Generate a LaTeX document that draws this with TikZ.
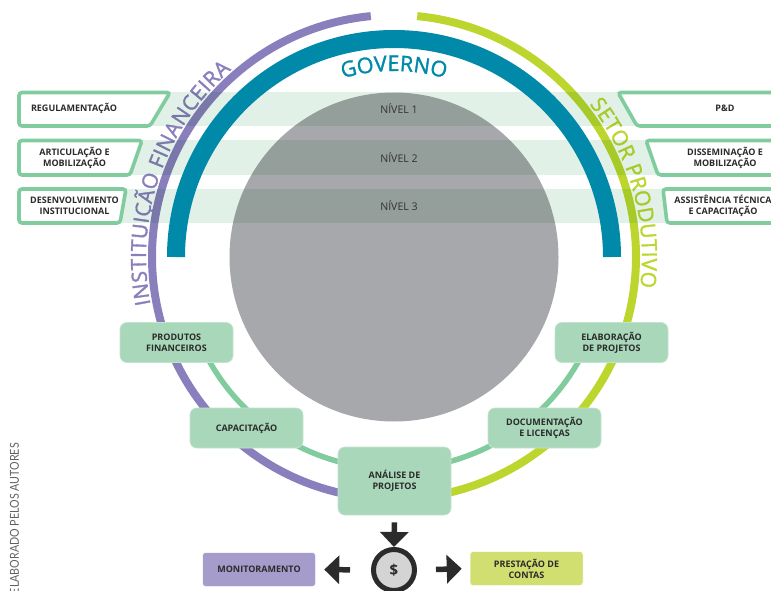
\documentclass[tikz,border=0pt]{standalone}
\usepackage{graphicx}
\usepackage{fontspec}
\setmainfont{Open Sans}
\newfontfamily\titlefont{Open Sans}[FakeBold=1.6]
\newfontfamily\notefont{Lato}
\usetikzlibrary{decorations.text,arrows.meta}
\definecolor{ringpurple}{HTML}{8A7FBD}
\definecolor{ringlime}{HTML}{BDD62E}
\definecolor{ringgreen}{HTML}{80CC9E}
\definecolor{teal}{HTML}{0089A8}
\definecolor{disc}{HTML}{A7A8AB}
\definecolor{bandc}{HTML}{E2F1E7}
\definecolor{boxg}{HTML}{A9D7BA}
\definecolor{boxp}{HTML}{A59CCB}
\definecolor{boxl}{HTML}{D1DF70}
\definecolor{ink}{HTML}{2B2B2B}
\tikzset{
  lab/.style={font=\fontsize{9}{11}\selectfont\bfseries,text=ink,align=center,inner sep=0pt},
  bx/.style={lab,rounded corners=7pt,fill=boxg,draw=boxg!70!white,line width=0.7pt,minimum width=113pt,minimum height=40pt},
  flat/.style={lab,rounded corners=3pt,draw=white,line width=0.5pt,minimum width=113pt,minimum height=34pt},
  trap/.style={draw=ringgreen,line width=3.6pt,fill=white!97!bandc,rounded corners=3pt},
  band/.style={fill=bandc,blend mode=multiply},
  lvl/.style={font=\fontsize{10.6}{12}\selectfont,text=black!80,inner sep=0pt},
  blockarrow/.style={draw=ink,line width=5.5pt,-{Triangle[length=15pt,width=28pt]}},
}
\begin{document}
\begin{tikzpicture}[x=1pt,y=-1pt]
\useasboundingbox (0,0) rectangle (771,591);
\clip (0,0) rectangle (771,591);
\coordinate (c) at (394,257);
% disc
\fill[disc] (c) circle[radius=164.5pt];
% arcs
\draw[ringpurple,line width=8pt] (c) ++(95.5:242pt) arc[start angle=95.5,end angle=262,radius=242pt];
\draw[ringlime,line width=8pt] (c) ++(84.5:242pt) arc[start angle=84.5,end angle=-82,radius=242pt];
\draw[ringgreen,line width=5.5pt] (c) ++(200:212pt) arc[start angle=200,end angle=340,radius=212pt];
% curved titles
\path[decorate,decoration={text along path,text color=ringpurple,text align={fit to path},
  text={|\fontsize{21}{22}\titlefont|INSTITUIÇÃO FINANCEIRA}}]
  (c) ++(191:248pt) arc[start angle=191,end angle=131,radius=248pt];
\path[decorate,decoration={text along path,text color=ringlime,text align={fit to path},
  text={|\fontsize{21}{22}\titlefont|SETOR PRODUTIVO}}]
  (c) ++(38:248pt) arc[start angle=38,end angle=-7,radius=248pt];
% bands
\fill[band] (30,92) rectangle (760,126);
\fill[band] (30,140.5) rectangle (760,175);
\fill[band] (30,189) rectangle (760,223);
% teal arc and its title
\draw[teal,line width=18pt] (c) ++(180:218pt) arc[start angle=180,end angle=0,radius=218pt];
\path[decorate,decoration={text along path,text color=teal,text align={fit to path},
  text={|\fontsize{21.5}{22}\titlefont|GOVERNO}}]
  (c) ++(106:186pt) arc[start angle=106,end angle=74,radius=186pt];
\node[lvl] (n1) at (399,108.5) {NÍVEL 1};
\node[lvl] (n2) at (399,157.5) {NÍVEL 2};
\node[lvl] (n3) at (399,206) {NÍVEL 3};
% left labels
\draw[trap] (19,92.5) -- (170,92.5) -- (150,126) -- (19,126) -- cycle;
\draw[trap] (19,140.5) -- (142,140.5) -- (130,175) -- (19,175) -- cycle;
\draw[trap] (19,189) -- (126,189) -- (120,223) -- (19,223) -- cycle;
\node[lab] (reg) at (74,108.5) {REGULAMENTAÇÃO};
\node[lab] (art) at (74.5,157.5) {ARTICULAÇÃO E\\MOBILIZAÇÃO};
\node[lab] (des) at (74.5,206) {DESENVOLVIMENTO\\INSTITUCIONAL};
% right labels
\draw[trap] (790,92.5) -- (618,92.5) -- (637,126) -- (790,126) -- cycle;
\draw[trap] (790,140.5) -- (646,140.5) -- (658,175) -- (790,175) -- cycle;
\draw[trap] (790,189) -- (663,189) -- (667,223) -- (790,223) -- cycle;
\node[lab] (pd) at (725,108.5) {P\&D};
\node[lab] (dis) at (725,157.5) {DISSEMINAÇÃO E\\MOBILIZAÇÃO};
\node[lab] (ast) at (723,206) {ASSISTÊNCIA TÉCNICA\\E CAPACITAÇÃO};
% process boxes
\node[bx] (prod) at (176.5,342.5) {PRODUTOS\\FINANCEIROS};
\node[bx] (cap) at (246.5,428) {CAPACITAÇÃO};
\node[bx,minimum height=68pt] (ana) at (394.5,481) {ANÁLISE DE\\PROJETOS};
\node[bx] (doc) at (544.5,428) {DOCUMENTAÇÃO\\E LICENÇAS};
\node[bx] (ela) at (611.5,342.5) {ELABORAÇÃO\\DE PROJETOS};
% bottom row
\node[flat,fill=boxp] (mon) at (259,569.5) {MONITORAMENTO};
\node[flat,fill=boxl] (pre) at (526.5,568.5) {PRESTAÇÃO DE\\CONTAS};
\node[circle,draw=ink,line width=5pt,fill=black!17,minimum size=41pt,inner sep=0pt,
  font=\fontsize{15}{15}\selectfont\bfseries,text=ink] (coin) at (394,570) {\$};
\draw[blockarrow,shorten <=7pt,shorten >=0pt] (ana.south) -- (coin.north);
\draw[blockarrow,shorten <=21pt,shorten >=8.5pt] (coin.west) -- (mon.east);
\draw[blockarrow,shorten <=19pt,shorten >=8pt] (coin.east) -- (pre.west);
% side note
\node[rotate=90,anchor=east,font=\fontsize{12.3}{13}\notefont,text=black!62,inner sep=0pt] (src) at (14.5,443) {\scalebox{0.87}[1]{ELABORADO PELOS AUTORES}};
\end{tikzpicture}
\end{document}
